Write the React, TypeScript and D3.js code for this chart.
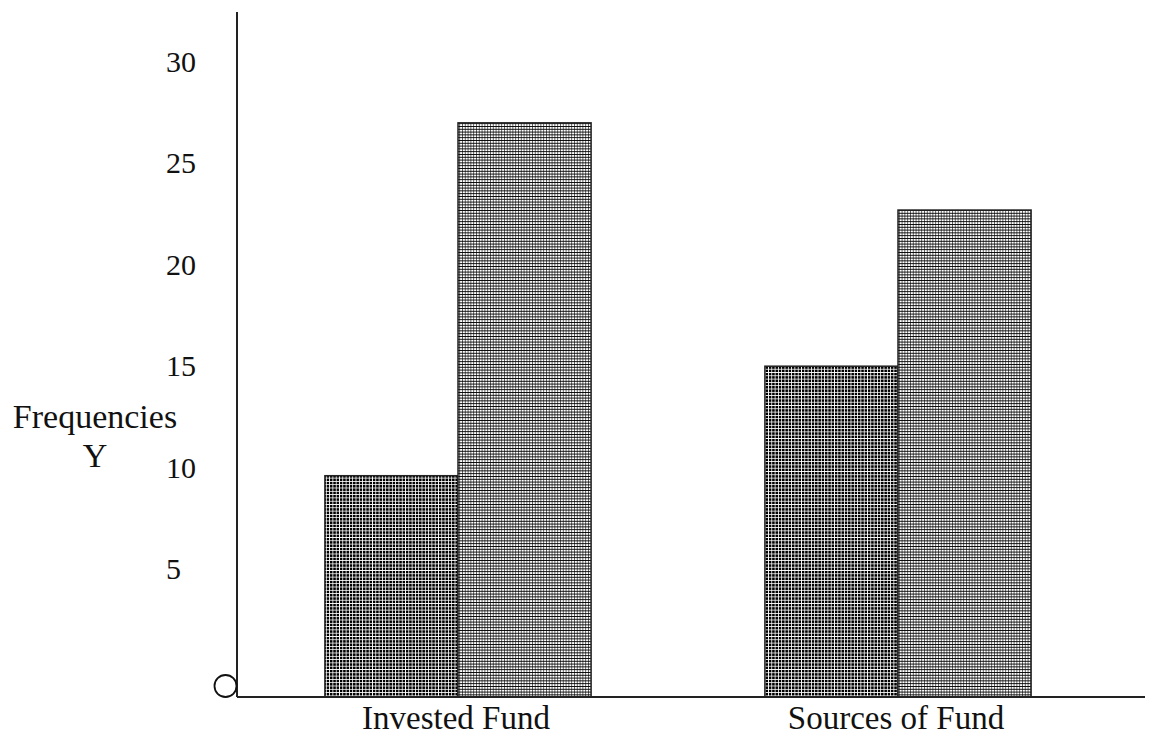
import React from "react";
import * as d3 from "d3";

const categories = ["Invested Fund", "Sources of Fund"];
const seriesKeys = ["A", "B"];
const seriesA = [9.6, 15.0];
const seriesB = [27.0, 22.7];
const yTicks = [5, 10, 15, 20, 25, 30];

const W = 1158;
const H = 735;

export default function App() {
  const axisX = 237;
  const axisY = 697;
  const x = d3.scaleBand<string>().domain(categories).range([238, 1118]).paddingInner(0.395).paddingOuter(0.1975);
  const xs = d3.scaleBand<string>().domain(seriesKeys).range([0, x.bandwidth()]).padding(0);
  const y = d3.scaleLinear().domain([0, 30]).range([670.4, 62]);
  const font = "'Liberation Serif', 'Times New Roman', serif";
  const fills = ["url(#patDots)", "url(#patLines)"];

  return (
    <svg width={W} height={H} style={{ position: "absolute", left: 0, top: 0, background: "#fff" }} fontFamily={font}>
      <defs>
        <pattern id="patDots" patternUnits="userSpaceOnUse" width={3.3} height={3.3}>
          <rect width={3.3} height={3.3} fill="#fff" />
          <rect width={2.5} height={2.5} fill="#000" />
        </pattern>
        <pattern id="patLines" patternUnits="userSpaceOnUse" width={2.8} height={2.8}>
          <rect width={2.8} height={2.8} fill="#fff" />
          <rect width={2.8} height={0.9} fill="#000" />
          <rect width={0.6} height={2.8} fill="#000" />
        </pattern>
      </defs>
      <rect width={W} height={H} fill="#fff" />
      {categories.map((c, i) =>
        [seriesA[i], seriesB[i]].map((v, j) => {
          const x0 = (x(c) as number) + (xs(seriesKeys[j]) as number);
          const top = y(v);
          return (
            <rect key={c + j} x={x0} y={top} width={xs.bandwidth()} height={axisY - top}
              fill={fills[j]} stroke="#222" strokeWidth={1.5} />
          );
        })
      )}
      <line x1={axisX} y1={12} x2={axisX} y2={axisY} stroke="#222" strokeWidth={2} />
      <line x1={axisX} y1={axisY} x2={1145} y2={axisY} stroke="#222" strokeWidth={2} />
      <circle cx={225.5} cy={686} r={11} fill="#fff" stroke="#111" strokeWidth={1.8} />
      {yTicks.map((t) => (
        <text key={t} x={166} y={y(t) + 10} fontSize={30} fill="#111" textAnchor="start">{t}</text>
      ))}
      {categories.map((c) => (
        <text key={c} x={(x(c) as number) + x.bandwidth() / 2 - 2} y={729} fontSize={33} fill="#111" textAnchor="middle">{c}</text>
      ))}
      <text x={95} y={428} fontSize={34} fill="#111" textAnchor="middle">Frequencies</text>
      <text x={95} y={467} fontSize={34} fill="#111" textAnchor="middle">Y</text>
    </svg>
  );
}
